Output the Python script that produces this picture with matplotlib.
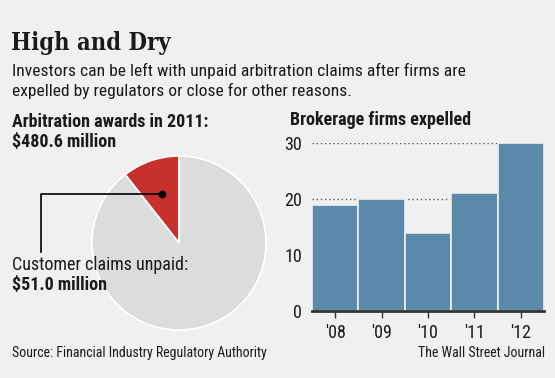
import numpy as np
import matplotlib
matplotlib.use("Agg")
from matplotlib import pyplot as plt
from matplotlib import font_manager

# data
years = ["'08", "'09", "'10", "'11", "'12"]
expelled = [19, 20, 14, 21, 30]
awards_total = 480.6   # $ million, 2011
claims_unpaid = 51.0   # $ million
yticks = [0, 10, 20, 30]

BG = '#f0f0f0'
BLUE = '#5b89a9'
RED = '#c8302c'
PIE_GRAY = '#dcdcdc'
INK = '#1a1a1a'

names = {f.name for f in font_manager.fontManager.ttflist}
narrow = ['Liberation Sans Narrow', 'Roboto Condensed', 'DejaVu Sans']
narrow = [n for n in narrow if n in names] or ['DejaVu Sans']
plt.rcParams['font.family'] = narrow

W, H = 555, 378
fig = plt.figure(figsize=(W / 100, H / 100), dpi=100, facecolor=BG)


def px(x, y):
    # pixel coords (top-left origin) -> figure fraction
    return x / W, 1 - y / H


# headings
fig.text(*px(11, 50), 'High and Dry', fontsize=17, fontweight='bold',
         family=['DejaVu Serif'], fontstretch='condensed', color=INK)
fig.text(*px(12, 76), 'Investors can be left with unpaid arbitration claims after firms are',
         fontsize=12.6, color=INK)
fig.text(*px(12, 96), 'expelled by regulators or close for other reasons.',
         fontsize=12.6, color=INK)
fig.text(*px(12, 127), 'Arbitration awards in 2011:', fontsize=13, fontweight='bold', color=INK)
fig.text(*px(12, 147), '$%.1f million' % awards_total, fontsize=13, fontweight='bold', color=INK)
fig.text(*px(290, 125), 'Brokerage firms expelled', fontsize=13, fontweight='bold', color=INK)
fig.text(*px(12, 357), 'Source: Financial Industry Regulatory Authority', fontsize=10, color=INK)
fig.text(*px(545, 357), 'The Wall Street Journal', fontsize=10, color=INK, ha='right')

# pie
cx, cy, r = 179, 243, 87
pax = fig.add_axes([(cx - r) / W, (H - cy - r) / H, 2 * r / W, 2 * r / H])
wedges, _ = pax.pie([claims_unpaid, awards_total - claims_unpaid], colors=[RED, PIE_GRAY],
                    startangle=90, counterclock=True, radius=1,
                    wedgeprops=dict(edgecolor='white', linewidth=1.2))
pax.set_xlim(-1, 1)
pax.set_ylim(-1, 1)
pax.set_aspect('equal')
pax.axis('off')
frac = claims_unpaid / awards_total
mid = np.deg2rad(90 + frac * 360 / 2)
dx, dy = 0.6 * np.cos(mid), 0.6 * np.sin(mid)
elbow_x = (41 - cx) / r
end_y = (cy - 252) / r
pax.plot([dx, elbow_x, elbow_x], [dy, dy, end_y], color='black', lw=1.2, clip_on=False)
pax.plot([dx], [dy], 'o', color='black', ms=4.5, clip_on=False)

fig.text(*px(12, 270), 'Customer claims unpaid:', fontsize=13, color=INK)
fig.text(*px(12, 290), '$%.1f million' % claims_unpaid, fontsize=13, fontweight='bold', color=INK)

# bars
bax = fig.add_axes([312 / W, (H - 311) / H, 232 / W, 168 / H])
bax.set_facecolor(BG)
x = np.arange(len(years))
bax.bar(x, expelled, width=1.0, color=BLUE, edgecolor=BG, linewidth=1.2, zorder=2)
bax.set_xlim(-0.5, len(years) - 0.5)
bax.set_ylim(0, 30)
bax.set_yticks(yticks)
bax.set_yticklabels([str(v) for v in yticks], fontsize=13, color=INK)
bax.set_xticks(x)
bax.set_xticklabels(years, fontsize=13, color=INK)
for v in yticks[1:]:
    bax.axhline(v, color='#555555', lw=1, ls=(0, (1, 2)), zorder=1)
for s in ['top', 'right', 'left']:
    bax.spines[s].set_visible(False)
bax.spines['bottom'].set_color('#333333')
bax.spines['bottom'].set_linewidth(2)
bax.spines['bottom'].set_zorder(3)
bax.tick_params(axis='x', length=5, width=1, color='#333333', pad=4)
bax.tick_params(axis='y', length=0, pad=7)

fig.savefig('out.png', dpi=100, facecolor=BG)
